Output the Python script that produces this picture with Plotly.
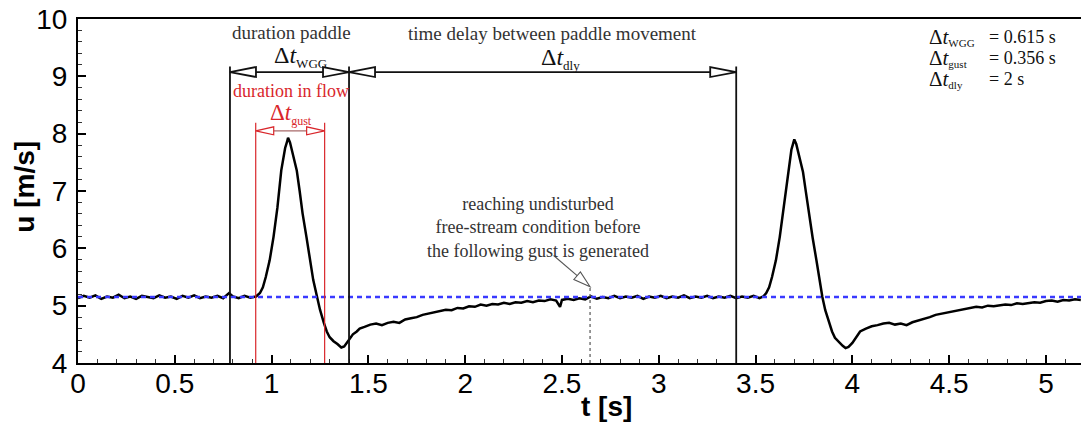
import plotly.graph_objects as go

# ---------------- data ----------------
t = [0.00, 0.03, 0.06, 0.09, 0.12, 0.15, 0.18, 0.21, 0.24, 0.27, 0.30, 0.33, 0.36, 0.39, 0.42,
     0.45, 0.48, 0.51, 0.54, 0.57, 0.60, 0.63, 0.66, 0.69, 0.72, 0.75, 0.78, 0.80, 0.83, 0.86,
     0.89, 0.92,
     0.94, 0.955, 0.97, 0.99, 1.01, 1.03, 1.05, 1.07, 1.08, 1.085, 1.095, 1.11, 1.13, 1.145,
     1.16, 1.18, 1.20, 1.215, 1.235, 1.25, 1.27, 1.285, 1.30, 1.32, 1.34, 1.36, 1.375, 1.39,
     1.40, 1.42, 1.44, 1.455, 1.48, 1.51, 1.54, 1.57, 1.60, 1.63, 1.66, 1.69, 1.72, 1.75,
     1.78, 1.81, 1.84, 1.87, 1.90, 1.93, 1.96, 1.99, 2.02, 2.05, 2.08, 2.11, 2.14, 2.17, 2.20,
     2.23, 2.26, 2.29, 2.32, 2.35, 2.38, 2.41, 2.44, 2.47, 2.49, 2.50, 2.53, 2.56, 2.59, 2.62,
     2.65, 2.68, 2.71, 2.74, 2.77, 2.80, 2.83, 2.86, 2.89, 2.92, 2.95, 2.98, 3.01, 3.04, 3.07,
     3.10, 3.13, 3.16, 3.19, 3.22, 3.25, 3.28, 3.31, 3.34, 3.37, 3.40, 3.43, 3.46, 3.49, 3.52,
     3.54,
     3.555, 3.57, 3.585, 3.605, 3.625, 3.645, 3.665, 3.685, 3.695, 3.70, 3.71, 3.725, 3.745,
     3.76, 3.775, 3.795, 3.815, 3.83, 3.845, 3.86, 3.88, 3.895, 3.91, 3.93, 3.95, 3.965, 3.98,
     4.00, 4.02, 4.04, 4.07, 4.10, 4.13, 4.16, 4.19, 4.22, 4.25, 4.28, 4.31, 4.34, 4.37, 4.40,
     4.43, 4.46, 4.49, 4.52, 4.55, 4.58, 4.61, 4.64, 4.67, 4.70, 4.73, 4.76, 4.79, 4.82, 4.85,
     4.88, 4.91, 4.94, 4.97, 5.00, 5.03, 5.06, 5.09, 5.12, 5.15, 5.18]

u = [5.13, 5.17, 5.14, 5.18, 5.12, 5.16, 5.14, 5.19, 5.13, 5.16, 5.12, 5.17, 5.15, 5.13, 5.18,
     5.14, 5.16, 5.12, 5.17, 5.14, 5.18, 5.13, 5.16, 5.14, 5.17, 5.13, 5.22, 5.16, 5.13, 5.17,
     5.14, 5.16,
     5.22, 5.32, 5.50, 5.79, 6.20, 6.71, 7.36, 7.75, 7.86, 7.93, 7.85, 7.65, 7.36, 7.00,
     6.61, 6.20, 5.79, 5.45, 5.15, 4.93, 4.70, 4.55, 4.45, 4.38, 4.33, 4.27, 4.29, 4.36,
     4.42, 4.50, 4.55, 4.60, 4.63, 4.67, 4.69, 4.66, 4.70, 4.72, 4.70, 4.76, 4.78, 4.80,
     4.84, 4.86, 4.89, 4.90, 4.93, 4.92, 4.96, 4.95, 4.99, 4.98, 5.02, 5.00, 5.03, 5.02, 5.05,
     5.03, 5.06, 5.05, 5.08, 5.06, 5.09, 5.08, 5.11, 5.09, 4.98, 5.10, 5.12, 5.10, 5.13, 5.11,
     5.16, 5.12, 5.15, 5.13, 5.17, 5.13, 5.16, 5.14, 5.17, 5.12, 5.16, 5.14, 5.17, 5.13, 5.16,
     5.14, 5.18, 5.13, 5.16, 5.14, 5.17, 5.13, 5.16, 5.14, 5.17, 5.13, 5.16, 5.14, 5.17, 5.13,
     5.16,
     5.22, 5.32, 5.50, 5.79, 6.20, 6.71, 7.30, 7.72, 7.84, 7.90, 7.82, 7.62, 7.33,
     6.98, 6.60, 6.18, 5.78, 5.45, 5.15, 4.92, 4.70, 4.55, 4.44, 4.36, 4.30, 4.26, 4.28,
     4.35, 4.45, 4.55, 4.60, 4.64, 4.66, 4.69, 4.70, 4.67, 4.69, 4.66, 4.71, 4.74, 4.76, 4.80,
     4.84, 4.86, 4.88, 4.91, 4.92, 4.95, 4.96, 4.98, 4.97, 5.00, 4.99, 5.01, 5.02, 5.01, 5.04,
     5.03, 5.05, 5.06, 5.05, 5.08, 5.09, 5.07, 5.10, 5.09, 5.11, 5.10]

U_INF = 5.15                       # undisturbed free-stream velocity
x_tick_vals = [0, 0.5, 1, 1.5, 2, 2.5, 3, 3.5, 4, 4.5, 5]
x_tick_text = ["0", "0.5", "1", "1.5", "2", "2.5", "3", "3.5", "4", "4.5", "5"]
y_tick_vals = [4, 5, 6, 7, 8, 9, 10]
y_tick_text = ["4", "5", "6", "7", "8", "9", "10"]

# event times (s)
T_PADDLE_START = 0.785
T_PADDLE_END = 1.40
T_NEXT_PADDLE = 3.40
T_GUST_START = 0.918
T_GUST_END = 1.274
T_REACH = 2.645

legend_names = ["WGG", "gust", "dly"]
legend_values = ["= 0.615 s", "= 0.356 s", "= 2 s"]

# ---------------- layout geometry ----------------
W, H = 1081, 422
ML, MR, MT, MB = 78, 0, 19, 59
X_RANGE = [0, 5.181]
Y_RANGE = [4, 10]
sx = (W - ML - MR) / (X_RANGE[1] - X_RANGE[0])   # px per s
sy = (H - MT - MB) / (Y_RANGE[1] - Y_RANGE[0])   # px per m/s

BLACK = "#111111"
RED = "#d9262b"
TXT = "#333333"
SERIF = "Liberation Serif"
SANS = "Liberation Sans"


def dt(sub, sub_size):
    return f"Δ<i>t</i><sub><span style='font-size:{sub_size}px'>{sub}</span></sub>"


fig = go.Figure()
fig.add_trace(go.Scatter(x=t, y=u, mode="lines",
                         line=dict(color="black", width=2.5), hoverinfo="skip"))
fig.add_trace(go.Scatter(x=X_RANGE, y=[U_INF, U_INF], mode="lines",
                         line=dict(color="#3a3aff", width=2.5, dash="5px,4px"),
                         hoverinfo="skip"))

shapes = []


def vline(x, top, color, width, dash="solid"):
    shapes.append(dict(type="line", xref="x", yref="y", x0=x, x1=x, y0=Y_RANGE[0], y1=top,
                       line=dict(color=color, width=width, dash=dash)))


def head(tip_x, tip_y, direction, length_px, half_px, color, width):
    bx = tip_x + direction * length_px / sx
    dy = half_px / sy
    shapes.append(dict(type="path", xref="x", yref="y",
                       path=f"M {tip_x},{tip_y} L {bx},{tip_y + dy} L {bx},{tip_y - dy} Z",
                       fillcolor="white", line=dict(color=color, width=width)))
    return bx


def dim_arrow(x0, x1, y, color, line_color, length_px, half_px, width):
    b0 = x0 + length_px / sx
    b1 = x1 - length_px / sx
    shapes.append(dict(type="line", xref="x", yref="y", x0=b0, x1=b1, y0=y, y1=y,
                       line=dict(color=line_color, width=width)))
    head(x0, y, 1, length_px, half_px, color, width)
    head(x1, y, -1, length_px, half_px, color, width)


# vertical markers
vline(T_PADDLE_START, 9.17, BLACK, 1.8)
vline(T_PADDLE_END, 9.17, BLACK, 1.8)
vline(T_NEXT_PADDLE, 9.17, BLACK, 1.8)
vline(T_GUST_START, 8.19, RED, 1.2)
vline(T_GUST_END, 8.19, RED, 1.2)
vline(T_REACH, 5.36, "#555555", 1.2, dash="3px,3px")

# dimension arrows
ARROW_U = 9.075
GUST_ARROW_U = 8.05
dim_arrow(T_PADDLE_START, T_PADDLE_END, ARROW_U, BLACK, BLACK, 26, 5, 1.8)
dim_arrow(T_PADDLE_END, T_NEXT_PADDLE, ARROW_U, BLACK, BLACK, 26, 5, 1.8)
dim_arrow(T_GUST_START, T_GUST_END, GUST_ARROW_U, RED, "#a86a6a", 18, 4, 1.2)

# pointer arrow to the "reaching" point
tip_x, tip_y = T_REACH, 5.33
dx_px, dy_px = 35.0, -30.0        # direction in screen px (right, down)
norm = (dx_px ** 2 + dy_px ** 2) ** 0.5
ux, uy = dx_px / norm, dy_px / norm
start_len, head_len, head_half = 48, 17, 5
sx0 = tip_x - ux * start_len / sx
sy0 = tip_y - uy * start_len / sy
bxp = tip_x - ux * head_len / sx
byp = tip_y - uy * head_len / sy
px_, py_ = -uy, ux
c1 = (bxp + px_ * head_half / sx, byp + py_ * head_half / sy)
c2 = (bxp - px_ * head_half / sx, byp - py_ * head_half / sy)
shapes.append(dict(type="line", xref="x", yref="y", x0=sx0, y0=sy0, x1=bxp, y1=byp,
                   line=dict(color="#555555", width=1.1)))
shapes.append(dict(type="path", xref="x", yref="y",
                   path=f"M {tip_x},{tip_y} L {c1[0]},{c1[1]} L {c2[0]},{c2[1]} Z",
                   fillcolor="white", line=dict(color="#555555", width=1.1)))

annotations = []


def text(x, y, s, size, color=TXT, family=SERIF, xanchor="center", **kw):
    annotations.append(dict(x=x, y=y, xref="x", yref="y", text=s, showarrow=False,
                            font=dict(family=family, size=size, color=color),
                            xanchor=xanchor, yanchor="middle", **kw))


text(1.105, 9.77, "duration paddle", 19)
text(1.15, 9.34, dt("WGG", 13), 24, color=BLACK)
text(2.45, 9.75, "time delay between paddle movement", 19)
text(2.49, 9.31, dt("dly", 13), 24, color=BLACK)
text(1.10, 8.74, "duration in flow", 18, color=RED)
text(1.10, 8.35, dt("gust", 12), 23, color=RED)
text(2.376, 6.36, "reaching undisturbed<br>free-stream condition before<br>the following gust is generated",
     18, align="center")

# legend block: one multi-line text per column (line pitch = 1.3 x base font size)
LEG_PITCH_FONT = 16
names_txt = "<br>".join(
    f"<span style='font-size:21px'>Δ<i>t</i></span><sub><span style='font-size:11px'>{n}</span></sub>"
    for n in legend_names)
values_txt = "<br>".join(f"<span style='font-size:18px'>{v}</span>" for v in legend_values)
text(4.385, 9.32, names_txt, LEG_PITCH_FONT, color=BLACK, xanchor="left", align="left")
text(4.695, 9.32, values_txt, LEG_PITCH_FONT, color=BLACK, xanchor="left", align="left")

# axis titles
annotations.append(dict(x=0.527, y=-0.125, xref="paper", yref="paper", text="<b>t [s]</b>",
                        showarrow=False, font=dict(family=SANS, size=28, color="black"),
                        xanchor="center", yanchor="middle"))
annotations.append(dict(x=-0.053, y=0.512, xref="paper", yref="paper", text="<b>u [m/s]</b>",
                        showarrow=False, textangle=-90,
                        font=dict(family=SANS, size=28, color="black"),
                        xanchor="center", yanchor="middle"))

fig.update_layout(
    width=W, height=H,
    margin=dict(l=ML, r=MR, t=MT, b=MB, pad=0, autoexpand=False),
    paper_bgcolor="white", plot_bgcolor="white",
    showlegend=False,
    shapes=shapes,
    annotations=annotations,
    xaxis=dict(range=X_RANGE, tickvals=x_tick_vals, ticktext=x_tick_text, automargin=False,
               ticks="inside", ticklen=8, tickwidth=1.5, tickcolor="black",
               ticklabelstandoff=-6,
               minor=dict(dtick=0.1, ticks="inside", ticklen=4, tickwidth=1, tickcolor="#333"),
               showline=True, linecolor="black", linewidth=2, mirror=True,
               showgrid=False, zeroline=False,
               tickfont=dict(family=SANS, size=28, color="black")),
    yaxis=dict(range=Y_RANGE, tickvals=y_tick_vals, ticktext=y_tick_text, automargin=False,
               ticks="inside", ticklen=8, tickwidth=1.5, tickcolor="black",
               ticklabelstandoff=3,
               minor=dict(dtick=0.2, ticks="inside", ticklen=4, tickwidth=1, tickcolor="#333"),
               showline=True, linecolor="black", linewidth=2,
               showgrid=False, zeroline=False,
               tickfont=dict(family=SANS, size=28, color="black")),
)

fig.write_html("out.html", config={"displayModeBar": False},
               post_script="document.body.style.margin='0';")
